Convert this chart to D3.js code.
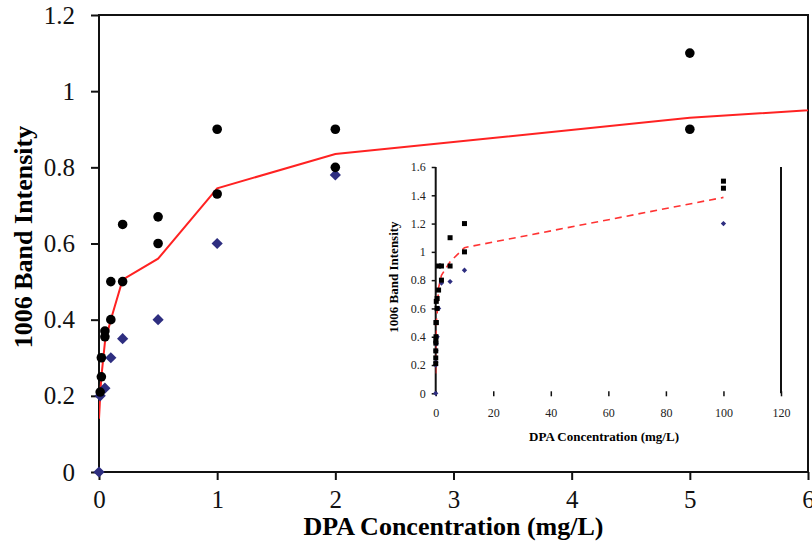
<!DOCTYPE html>
<html>
<head>
<meta charset="utf-8">
<script src="https://cdn.jsdelivr.net/npm/d3@7"></script>
<style>
  body { margin: 0; background: #fff; }
  svg { display: block; }
  svg text { font-family: 'Liberation Serif', 'DejaVu Serif', 'Times New Roman', Times, serif; }
</style>
</head>
<body>
<svg width="812" height="542"></svg>
<script>
(function (d3) {
  'use strict';

  // data
  const blackX = [0.01, 0.02, 0.02, 0.05, 0.05, 0.1, 0.1, 0.2, 0.2, 0.5, 0.5, 1, 1, 2, 2, 5, 5];
  const blackY = [0.21, 0.25, 0.30, 0.355, 0.37, 0.40, 0.50, 0.50, 0.65, 0.60, 0.67, 0.73, 0.90, 0.80, 0.90, 0.90, 1.10];
  const blueX = [0, 0.01, 0.05, 0.1, 0.2, 0.5, 1, 2];
  const blueY = [0, 0.20, 0.22, 0.30, 0.35, 0.40, 0.60, 0.78];
  // points only seen in the inset
  const insetBlackX = [10, 10, 100, 100];
  const insetBlackY = [1.0, 1.2, 1.45, 1.5];
  const insetBlueX = [5, 10, 100];
  const insetBlueY = [0.79, 0.87, 1.2];
  // red fit line
  const fitX = [0, 0.01, 0.02, 0.05, 0.1, 0.2, 0.5, 1, 2, 5, 10, 100];
  const fitY = [0.14, 0.20, 0.25, 0.34, 0.40, 0.505, 0.56, 0.745, 0.835, 0.93, 1.03, 1.385];

  const xTicks = [0, 1, 2, 3, 4, 5, 6];
  const yTicks = [0, 0.2, 0.4, 0.6, 0.8, 1, 1.2];
  const insetXTicks = [0, 20, 40, 60, 80, 100, 120];
  const insetYTicks = [0, 0.2, 0.4, 0.6, 0.8, 1, 1.2, 1.4, 1.6];

  const svg = d3.select('svg');

  const zip = (xs, ys) => xs.map((x, i) => ({ x: x, y: ys[i] }));
  const black = zip(blackX, blackY);
  const blue = zip(blueX, blueY);
  const fit = zip(fitX, fitY);
  const plain = d3.format('');

  // ---------- main chart ----------
  const left = 99, top = 15, right = 808, bottom = 472;
  const x = d3.scaleLinear().domain([0, 6]).range([left, right]);
  const y = d3.scaleLinear().domain([0, 1.2]).range([bottom, top]);

  svg.append('clipPath').attr('id', 'mainClip')
    .append('rect')
      .attr('x', left).attr('y', top)
      .attr('width', right - left).attr('height', bottom - top);

  const yAxis = svg.append('g')
      .attr('transform', `translate(${left},0)`)
      .call(d3.axisLeft(y).tickValues(yTicks).tickSize(8).tickPadding(16)
        .tickFormat(plain));
  const xAxis = svg.append('g')
      .attr('transform', `translate(0,${bottom})`)
      .call(d3.axisBottom(x).tickValues(xTicks).tickSize(8).tickPadding(10)
        .tickFormat(plain));

  [xAxis, yAxis].forEach(a => {
    a.attr('font-family', null);
    a.select('.domain').remove();
    a.selectAll('line').attr('stroke', '#111').attr('stroke-width', 2);
    a.selectAll('text')
      .attr('font-size', 25)
      .attr('fill', '#111');
  });

  // frame
  svg.append('rect')
    .attr('x', left).attr('y', top)
    .attr('width', right - left).attr('height', bottom - top)
    .attr('fill', 'none')
    .attr('stroke', '#111')
    .attr('stroke-width', 2);

  const line = d3.line().x(d => x(d.x)).y(d => y(d.y));
  svg.append('path')
    .attr('clip-path', 'url(#mainClip)')
    .attr('d', line(fit))
    .attr('fill', 'none')
    .attr('stroke', '#f22')
    .attr('stroke-width', 2);

  const onMain = d => d.x <= 6;
  svg.append('g').selectAll('path')
    .data(blue.filter(onMain))
    .join('path')
      .attr('transform', d => `translate(${x(d.x)},${y(d.y)})`)
      .attr('d', d3.symbol(d3.symbolDiamond2, 80))
      .attr('fill', '#2e2e80');

  svg.append('g').selectAll('circle')
    .data(black.filter(onMain))
    .join('circle')
      .attr('cx', d => x(d.x))
      .attr('cy', d => y(d.y))
      .attr('r', 4.8)
      .attr('fill', '#000');

  svg.append('text')
    .attr('x', x(3))
    .attr('y', 535)
    .attr('text-anchor', 'middle')
    .attr('font-weight', 'bold')
    .attr('font-size', 26)
    .text('DPA Concentration (mg/L)');

  svg.append('text')
    .attr('transform', 'translate(32,237) rotate(-90)')
    .attr('text-anchor', 'middle')
    .attr('font-weight', 'bold')
    .attr('font-size', 26)
    .text('1006 Band Intensity');

  // ---------- inset ----------
  const iLeft = 435.7, iTop = 167, iBottom = 393.3;
  const ix = d3.scaleLinear().domain([0, 120]).range([iLeft, 781]);
  const iy = d3.scaleLinear().domain([0, 1.6]).range([iBottom, iTop]);

  svg.append('clipPath').attr('id', 'insetClip')
    .append('rect')
      .attr('x', iLeft).attr('y', iTop - 5)
      .attr('width', ix(120) - iLeft).attr('height', iBottom - iTop + 10);

  const iyAxis = svg.append('g')
      .attr('transform', `translate(${iLeft},0)`)
      .call(d3.axisLeft(iy).tickValues(insetYTicks).tickSize(4).tickPadding(6)
        .tickFormat(plain));
  const ixAxis = svg.append('g')
      .attr('transform', `translate(0,${iBottom - 2})`)
      .call(d3.axisBottom(ix).tickValues(insetXTicks).tickSize(5).tickPadding(12)
        .tickFormat(plain));

  [ixAxis, iyAxis].forEach(a => {
    a.attr('font-family', null);
    a.select('.domain').remove();
    a.selectAll('line').attr('stroke', '#111').attr('stroke-width', 1.5);
    a.selectAll('text')
      .attr('font-size', 12)
      .attr('fill', '#222');
  });

  // inset axis line and the long line at x = 120
  svg.append('line')
    .attr('x1', iLeft).attr('x2', iLeft)
    .attr('y1', iTop).attr('y2', iBottom)
    .attr('stroke', '#111').attr('stroke-width', 2);
  svg.append('line')
    .attr('x1', ix(120)).attr('x2', ix(120))
    .attr('y1', iTop).attr('y2', iBottom)
    .attr('stroke', '#111').attr('stroke-width', 2);

  const iline = d3.line().x(d => ix(d.x)).y(d => iy(d.y));
  svg.append('path')
    .attr('clip-path', 'url(#insetClip)')
    .attr('d', iline(fit))
    .attr('fill', 'none')
    .attr('stroke', '#f33')
    .attr('stroke-width', 1.6)
    .attr('stroke-dasharray', '7,5');

  svg.append('g').selectAll('path')
    .data(blue.concat(zip(insetBlueX, insetBlueY)))
    .join('path')
      .attr('transform', d => `translate(${ix(d.x)},${iy(d.y)})`)
      .attr('d', d3.symbol(d3.symbolDiamond2, 18))
      .attr('fill', '#2e2e80');

  svg.append('g').selectAll('rect')
    .data(black.concat(zip(insetBlackX, insetBlackY)))
    .join('rect')
      .attr('x', d => ix(d.x) - 2.5)
      .attr('y', d => iy(d.y) - 2.5)
      .attr('width', 5)
      .attr('height', 5)
      .attr('fill', '#000');

  svg.append('text')
    .attr('x', 604)
    .attr('y', 441)
    .attr('text-anchor', 'middle')
    .attr('font-weight', 'bold')
    .attr('font-size', 13)
    .text('DPA Concentration (mg/L)');

  svg.append('text')
    .attr('transform', 'translate(398,277) rotate(-90)')
    .attr('text-anchor', 'middle')
    .attr('font-weight', 'bold')
    .attr('font-size', 13)
    .text('1006 Band Intensity');

}(d3));
</script>
</body>
</html>
